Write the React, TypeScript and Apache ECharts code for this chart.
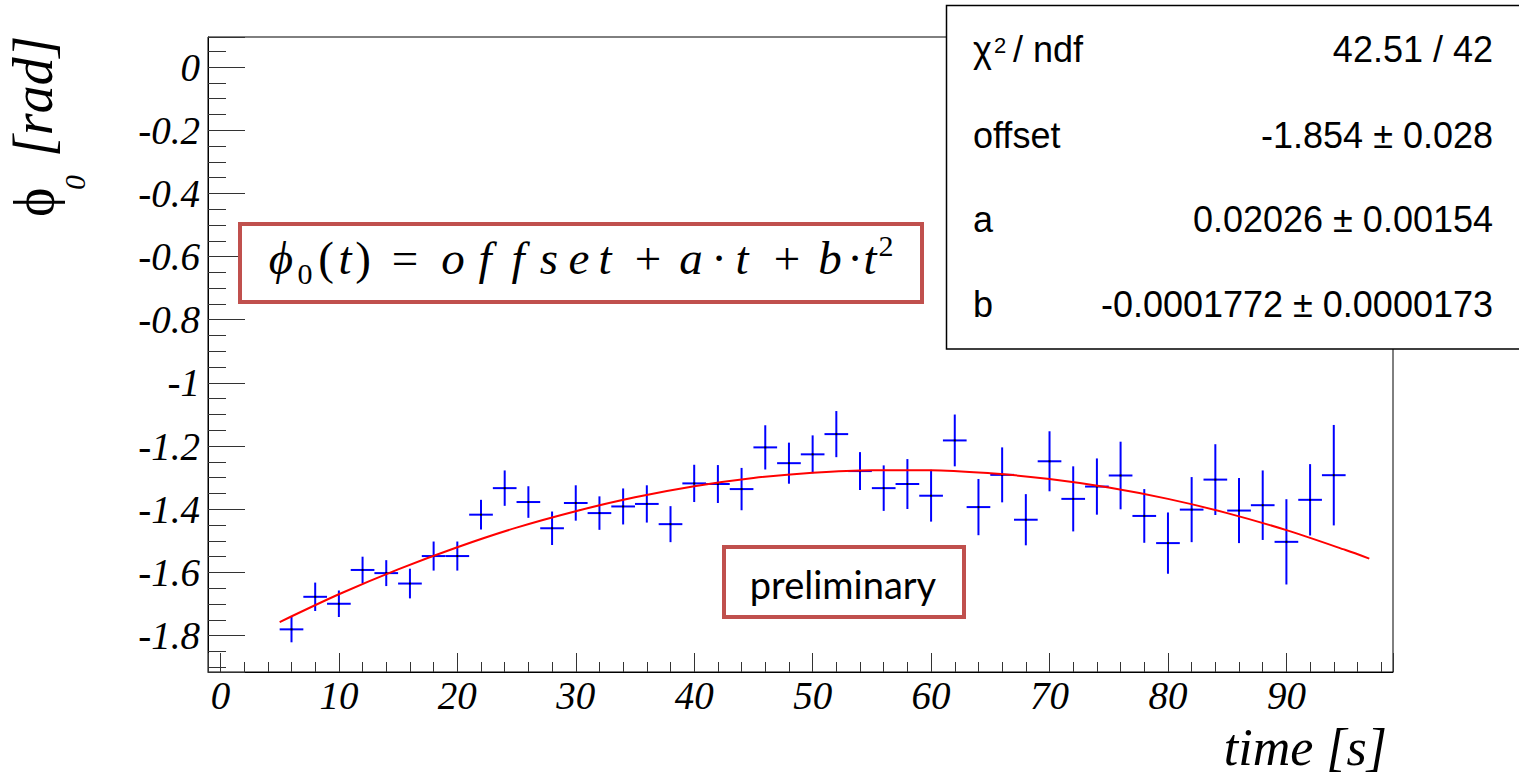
import React, { useEffect, useRef } from "react";
import * as echarts from "echarts";

// measured points (time in s, phase in rad, error in rad)
const times = [6, 8, 10, 12, 14, 16, 18, 20, 22, 24, 26, 28, 30, 32, 34, 36, 38, 40, 42, 44, 46, 48, 50, 52, 54, 56, 58, 60, 62, 64, 66, 68, 70, 72, 74, 76, 78, 80, 82, 84, 86, 88, 90, 92, 94];
const phi0 = [-1.780, -1.677, -1.699, -1.592, -1.602, -1.635, -1.548, -1.548, -1.417, -1.333, -1.377, -1.460, -1.380, -1.412, -1.391, -1.383, -1.447, -1.318, -1.320, -1.336, -1.204, -1.254, -1.226, -1.162, -1.279, -1.333, -1.320, -1.357, -1.182, -1.393, -1.291, -1.433, -1.248, -1.367, -1.328, -1.293, -1.421, -1.507, -1.401, -1.306, -1.404, -1.387, -1.503, -1.370, -1.292];
const phi0Err = [0.041, 0.045, 0.042, 0.042, 0.041, 0.047, 0.046, 0.046, 0.047, 0.056, 0.050, 0.053, 0.056, 0.053, 0.057, 0.059, 0.057, 0.059, 0.060, 0.067, 0.070, 0.065, 0.060, 0.073, 0.060, 0.072, 0.079, 0.082, 0.082, 0.089, 0.087, 0.081, 0.095, 0.103, 0.089, 0.107, 0.085, 0.097, 0.103, 0.112, 0.103, 0.110, 0.135, 0.113, 0.159];
const binHalfWidth = 1;

// fitted curve
const fitTimes = [5, 10, 15, 20, 25, 30, 35, 40, 45, 50, 55, 60, 65, 70, 75, 80, 85, 90, 95, 97];
const fitPhi0 = [-1.757, -1.669, -1.590, -1.520, -1.458, -1.406, -1.362, -1.327, -1.301, -1.284, -1.276, -1.276, -1.286, -1.304, -1.331, -1.367, -1.412, -1.466, -1.529, -1.556];

// fit statistics box
const statLabels = ["offset", "a", "b"];
const statValues = ["-1.854 \u00b1 0.028", "0.02026 \u00b1 0.00154", "-0.0001772 \u00b1 0.0000173"];
const chiValue = "42.51 / 42";

const serif = "'Liberation Serif', 'Times New Roman', serif";
const sans = "'Liberation Sans', Arial, sans-serif";

function txt(text: string, x: number, y: number, size: number, opts: any = {}) {
  return {
    type: "text",
    x,
    y,
    z: 100,
    style: {
      text,
      fill: "#000",
      fontSize: size,
      fontFamily: opts.family || serif,
      fontStyle: opts.italic ? "italic" : "normal",
      align: opts.align || "left",
      textAlign: opts.align || "left",
      verticalAlign: "middle",
      textVerticalAlign: "middle",
    },
  };
}

export default function App() {
  const ref = useRef<HTMLDivElement>(null);
  useEffect(() => {
    const chart = echarts.init(ref.current!, null, { renderer: "svg" });

    const fMain = 47;
    const fSmall = 30;
    const mainCy = 274 - 0.34 * fMain;
    const subCy = 284 - 0.34 * fSmall;
    const supCy = 256 - 0.34 * fSmall;
    const formula: [string, number, string, boolean][] = [
      ["\u03d5", 281, "m", true],
      ["0", 305, "sub", false],
      ["(", 326, "m", false],
      ["t", 345, "m", true],
      [")", 363, "m", false],
      ["=", 405, "m", false],
      ["o", 453, "m", true],
      ["f", 485, "m", true],
      ["f", 518, "m", true],
      ["s", 549, "m", true],
      ["e", 579, "m", true],
      ["t", 605, "m", true],
      ["+", 648, "m", false],
      ["a", 691, "m", true],
      ["\u00b7", 719, "m", false],
      ["t", 742, "m", true],
      ["+", 787, "m", false],
      ["b", 830, "m", true],
      ["\u00b7", 855, "m", false],
      ["t", 870, "m", true],
      ["2", 886, "sup", false],
    ];
    const formulaEls = formula.map(([t, x, kind, it]) =>
      txt(t, x, kind === "m" ? mainCy : kind === "sub" ? subCy : supCy, kind === "m" ? fMain : fSmall, { italic: it, align: "center" })
    );

    const statRowsBase = [148, 232, 317];
    const statEls: any[] = [];
    statEls.push(txt("\u03c7", 973, 62 - 12.5, 36, { family: sans }));
    statEls.push(txt("2", 994, 45, 22, { family: sans }));
    statEls.push(txt("/ ndf", 1013, 62 - 12.5, 36, { family: sans }));
    statEls.push(txt(chiValue, 1493, 62 - 12.5, 36, { family: sans, align: "right" }));
    statLabels.forEach((l, i) => {
      statEls.push(txt(l, 973, statRowsBase[i] - 12.5, 36, { family: sans }));
      statEls.push(txt(statValues[i], 1493, statRowsBase[i] - 12.5, 36, { family: sans, align: "right" }));
    });

    const option: any = {
      animation: false,
      backgroundColor: "#fff",
      grid: {
        left: 208,
        right: 126,
        top: 37,
        bottom: 109,
        show: true,
        borderColor: "#000",
        borderWidth: 1,
        backgroundColor: "transparent",
      },
      xAxis: {
        type: "value",
        min: -1.05,
        max: 99,
        splitNumber: 10,
        axisLine: { show: true, onZero: false, lineStyle: { color: "#000", width: 1 } },
        axisTick: { show: true, inside: true, length: 19, lineStyle: { color: "#333", width: 1 } },
        minorTick: { show: true, splitNumber: 5, length: 10, lineStyle: { color: "#333", width: 1 } },
        splitLine: { show: false },
        axisLabel: {
          showMinLabel: false,
          showMaxLabel: false,
          margin: 4,
          color: "#000",
          fontFamily: serif,
          fontStyle: "italic",
          fontSize: 39,
        },
      },
      yAxis: {
        type: "value",
        min: -1.915,
        max: 0.095,
        splitNumber: 10,
        axisLine: { show: true, onZero: false, lineStyle: { color: "#000", width: 1 } },
        axisTick: { show: true, inside: true, length: 37, lineStyle: { color: "#333", width: 1 } },
        minorTick: { show: true, splitNumber: 4, length: 18, lineStyle: { color: "#333", width: 1 } },
        splitLine: { show: false },
        axisLabel: {
          showMinLabel: false,
          showMaxLabel: false,
          margin: 8,
          color: "#000",
          fontFamily: serif,
          fontStyle: "italic",
          fontSize: 39,
        },
      },
      series: [
        {
          type: "custom",
          z: 2,
          data: times.map((t, i) => [t, phi0[i], phi0Err[i]]),
          encode: { x: 0, y: 1 },
          renderItem: (params: any, api: any) => {
            const x = api.value(0);
            const y = api.value(1);
            const e = api.value(2);
            const c = api.coord([x, y]);
            const l = api.coord([x - binHalfWidth, y]);
            const r = api.coord([x + binHalfWidth, y]);
            const t = api.coord([x, y + e]);
            const b = api.coord([x, y - e]);
            return {
              type: "group",
              children: [
                { type: "line", shape: { x1: l[0], y1: l[1], x2: r[0], y2: r[1] }, style: { stroke: "#0000ff", lineWidth: 2 } },
                { type: "line", shape: { x1: t[0], y1: t[1], x2: b[0], y2: b[1] }, style: { stroke: "#0000ff", lineWidth: 2 } },
                { type: "rect", shape: { x: c[0] - 1, y: c[1] - 1, width: 2, height: 2 }, style: { fill: "#000" } },
              ],
            };
          },
        },
        {
          type: "line",
          z: 3,
          data: fitTimes.map((t, i) => [t, fitPhi0[i]]),
          smooth: 0.3,
          symbol: "none",
          lineStyle: { color: "#ff0000", width: 2 },
        },
      ],
      graphic: [
        // y axis title
        {
          type: "group",
          x: 52,
          y: 217,
          rotation: Math.PI / 2,
          children: [
            txt("\u03d5", 0, -18, 56, {}),
            txt("0", 27, 22, 30, { italic: true }),
            txt("[rad]", 60, -19, 56, { italic: true }),
          ],
        },
        // x axis title
        txt("time [s]", 1387, 747, 52, { italic: true, align: "right" }),
        // formula box
        {
          type: "rect",
          z: 90,
          shape: { x: 240, y: 224, width: 682, height: 78 },
          style: { fill: "#fff", stroke: "#c0504d", lineWidth: 4 },
        },
        ...formulaEls,
        // preliminary box
        {
          type: "rect",
          z: 90,
          shape: { x: 724, y: 547, width: 240, height: 70 },
          style: { fill: "#fff", stroke: "#c0504d", lineWidth: 4 },
        },
        txt("preliminary", 843, 584, 38, { family: "Lato, 'Open Sans', sans-serif", align: "center" }),
        // stats box
        {
          type: "rect",
          z: 90,
          shape: { x: 946.5, y: 5.5, width: 580, height: 343.5 },
          style: { fill: "#fff", stroke: "#000", lineWidth: 1.5 },
        },
        ...statEls,
      ],
    };
    chart.setOption(option);
    return () => chart.dispose();
  }, []);
  return (
    <div
      ref={ref}
      style={{ position: "fixed", left: 0, top: 0, width: 1519, height: 781, background: "#fff" }}
    />
  );
}
